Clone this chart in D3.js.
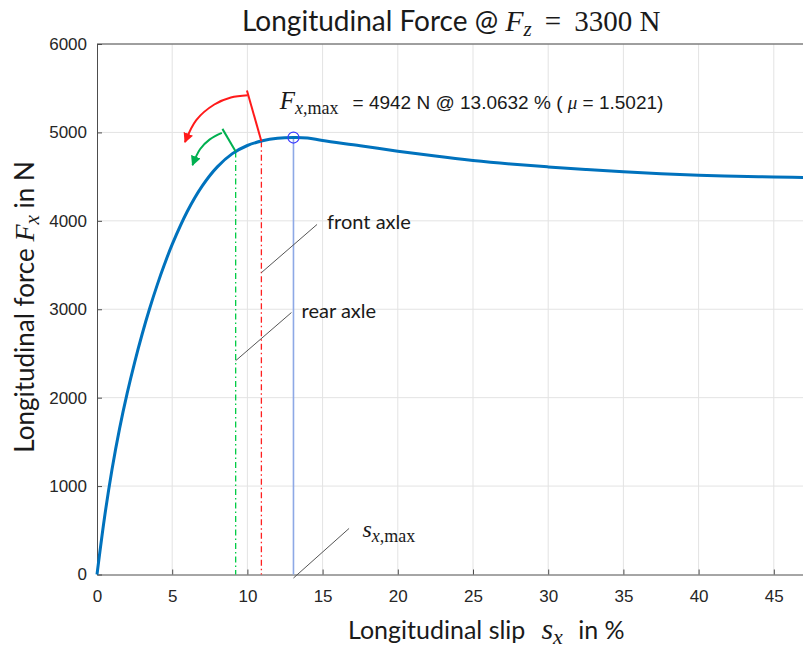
<!DOCTYPE html>
<html>
<head>
<meta charset="utf-8">
<script src="https://cdn.jsdelivr.net/npm/d3@7"></script>
<style>
  body { margin: 0; background: #fff; }
  svg { display: block; }
  .lbl { font-family: Lato, "Open Sans", sans-serif; fill: #1a1a1a; }
  .math { font-family: "Liberation Serif", "DejaVu Serif", serif; }
</style>
</head>
<body>
<div id="chart"></div>
<script>
// tire curve: slip in %, force in N
const slip = [0, 0.5, 1, 1.5, 2, 2.5, 3, 3.5, 4, 4.5, 5, 6, 7, 8, 9, 10, 11, 12, 13.0632, 14, 15, 17.5, 20, 22.5, 25, 27.5, 30, 32.5, 35, 37.5, 40, 42.5, 45, 47.5, 50];
const force = [0, 645, 1190, 1650, 2045, 2397, 2717, 3008, 3273, 3514, 3733, 4105, 4395, 4610, 4760, 4852, 4905, 4933, 4942, 4937, 4908, 4850, 4788, 4732, 4683, 4643, 4610, 4580, 4554, 4533, 4516, 4505, 4496, 4489, 4484];

const xTicks = [0, 5, 10, 15, 20, 25, 30, 35, 40, 45];
const xGrid = [5, 10, 15, 20, 25, 30, 35, 40, 45, 50];
const yTicks = [0, 1000, 2000, 3000, 4000, 5000, 6000];

// operating points
const peak = { s: 13.0632, f: 4942 };
const front = { s: 10.93, f: 4899 };
const rear = { s: 9.22, f: 4785 };

// rotation arrows (data units)
const redStem = [[10.93, 4899], [9.97, 5475]];
const redArc = [[10.02, 5420], [8.9, 5395], [7.8, 5316], [6.6, 5140], [5.85, 4890]];
const greenStem = [[9.22, 4785], [8.34, 5040]];
const greenArc = [[8.3, 4995], [7.5, 4921], [6.85, 4810], [6.35, 4630]];

// label leader lines
const leaders = [
  { name: "front", from: [10.93, 3414], to: [14.63, 3959] },
  { name: "rear", from: [9.22, 2418], to: [12.93, 2963] },
  { name: "smax", from: [13.0632, -40], to: [16.76, 521] }
];

const W = 803, H = 651;
const margin = { top: 44, left: 97 };

const svg = d3.select("#chart").append("svg")
  .attr("width", W).attr("height", H)
  .style("overflow", "hidden");

const x = d3.scaleLinear().domain([0, 50]).range([margin.left, margin.left + 752]);
const y = d3.scaleLinear().domain([0, 6000]).range([574.5, margin.top]);

// grid
svg.append("g").selectAll("line")
  .data(xGrid)
  .join("line")
  .attr("x1", d => x(d)).attr("x2", d => x(d))
  .attr("y1", y(0)).attr("y2", y(6000))
  .attr("stroke", "#e3e3e3").attr("stroke-width", 1);

svg.append("g").selectAll("line")
  .data(yTicks.slice(1))
  .join("line")
  .attr("x1", x(0)).attr("x2", x(50))
  .attr("y1", d => y(d)).attr("y2", d => y(d))
  .attr("stroke", "#e3e3e3").attr("stroke-width", 1);

// axes, ticks pointing inwards like matlab
const xAxis = svg.append("g")
  .attr("transform", `translate(0,${y(0)})`)
  .call(d3.axisBottom(x).tickValues(xTicks).tickFormat(d3.format("d"))
    .tickSizeInner(-5).tickSizeOuter(0).tickPadding(15));
const yAxis = svg.append("g")
  .attr("transform", `translate(${x(0)},0)`)
  .call(d3.axisLeft(y).tickValues(yTicks).tickFormat(d3.format("d"))
    .tickSizeInner(-5).tickSizeOuter(0).tickPadding(10));
[xAxis, yAxis].forEach(a => {
  a.select(".domain").attr("stroke", "#4d4d4d");
  a.selectAll(".tick line").attr("stroke", "#4d4d4d");
  a.selectAll(".tick text")
    .style("font-family", "'Liberation Sans', Arial, sans-serif")
    .style("font-size", "17px")
    .attr("fill", "#262626");
});
svg.append("line")
  .attr("x1", x(0)).attr("x2", x(50))
  .attr("y1", y(6000)).attr("y2", y(6000))
  .attr("stroke", "#4d4d4d");

// vertical markers
svg.append("line")
  .attr("x1", x(rear.s)).attr("x2", x(rear.s))
  .attr("y1", y(rear.f)).attr("y2", y(0))
  .attr("stroke", "#00cc44").attr("stroke-width", 1.3)
  .attr("stroke-dasharray", "6,3,1.5,3");
svg.append("line")
  .attr("x1", x(front.s)).attr("x2", x(front.s))
  .attr("y1", y(front.f)).attr("y2", y(0))
  .attr("stroke", "#ff2020").attr("stroke-width", 1.3)
  .attr("stroke-dasharray", "6,3,1.5,3");
svg.append("line")
  .attr("x1", x(peak.s)).attr("x2", x(peak.s))
  .attr("y1", y(peak.f)).attr("y2", y(0))
  .attr("stroke", "#8ea9e6").attr("stroke-width", 1.6);

// curve
const line = d3.line().x(d => x(d[0])).y(d => y(d[1])).curve(d3.curveCatmullRom);
svg.append("path")
  .datum(slip.map((s, i) => [s, force[i]]))
  .attr("d", line)
  .attr("fill", "none")
  .attr("stroke", "#0072bd")
  .attr("stroke-width", 3);

svg.append("circle")
  .attr("cx", x(peak.s)).attr("cy", y(peak.f)).attr("r", 5.5)
  .attr("fill", "none").attr("stroke", "#3b3bff").attr("stroke-width", 1.2);

// arrow heads
const defs = svg.append("defs");
[["red", "#ff1a1a"], ["green", "#00b050"]].forEach(([id, c]) => {
  defs.append("marker")
    .attr("id", "arr-" + id)
    .attr("markerUnits", "userSpaceOnUse")
    .attr("viewBox", "0 0 10 10")
    .attr("refX", 9).attr("refY", 5)
    .attr("markerWidth", 10).attr("markerHeight", 10)
    .attr("orient", "auto")
    .append("path").attr("d", "M0,0 L10,5 L0,10 Z").attr("fill", c);
});

const pline = d3.line().x(d => x(d[0])).y(d => y(d[1]));
const arcLine = d3.line().x(d => x(d[0])).y(d => y(d[1])).curve(d3.curveCatmullRom);

svg.append("path").attr("d", pline(redStem)).attr("stroke", "#ff1a1a").attr("stroke-width", 2).attr("fill", "none");
svg.append("path").attr("d", arcLine(redArc)).attr("stroke", "#ff1a1a").attr("stroke-width", 2).attr("fill", "none")
  .attr("marker-end", "url(#arr-red)");
svg.append("path").attr("d", pline(greenStem)).attr("stroke", "#00b050").attr("stroke-width", 2).attr("fill", "none");
svg.append("path").attr("d", arcLine(greenArc)).attr("stroke", "#00b050").attr("stroke-width", 2).attr("fill", "none")
  .attr("marker-end", "url(#arr-green)");

// leader lines
svg.append("g").selectAll("path")
  .data(leaders)
  .join("path")
  .attr("d", d => pline([d.from, d.to]))
  .attr("stroke", "#555").attr("stroke-width", 1).attr("fill", "none");

// annotation texts
svg.append("text").attr("class", "lbl")
  .attr("x", x(15.3)).attr("y", y(3903))
  .style("font-size", "20px").text("front axle");
svg.append("text").attr("class", "lbl")
  .attr("x", x(13.6)).attr("y", y(2900))
  .style("font-size", "20px").text("rear axle");

const smax = svg.append("text").attr("class", "math")
  .attr("x", x(17.65)).attr("y", y(425))
  .style("font-size", "24px").attr("fill", "#1a1a1a");
smax.append("tspan").style("font-style", "italic").text("s");
smax.append("tspan").attr("dy", 5).style("font-size", "18px").style("font-style", "italic").text("x");
smax.append("tspan").style("font-size", "18px").text(",max");

const fmax = svg.append("text")
  .attr("x", x(12.15)).attr("y", y(5270))
  .attr("fill", "#1a1a1a");
fmax.append("tspan").attr("class", "math").style("font-size", "25px").style("font-style", "italic").text("F");
fmax.append("tspan").attr("class", "math").attr("dy", 5).style("font-size", "18px").style("font-style", "italic").text("x");
fmax.append("tspan").attr("class", "math").style("font-size", "18px").text(",max");
fmax.append("tspan").attr("dy", -5).attr("dx", 14)
  .style("font-family", "'Liberation Sans', Arial, sans-serif").style("font-size", "19px")
  .text("= 4942 N @ 13.0632 % ( ");
fmax.append("tspan").attr("class", "math").style("font-style", "italic").style("font-size", "19px").text("μ");
fmax.append("tspan")
  .style("font-family", "'Liberation Sans', Arial, sans-serif").style("font-size", "19px")
  .text(" = 1.5021)");

// title
const title = svg.append("text").attr("class", "lbl")
  .attr("x", 242).attr("y", 31)
  .style("font-size", "28px");
title.append("tspan").text("Longitudinal Force @ ");
title.append("tspan").attr("class", "math").style("font-style", "italic").style("font-size", "30px").text("F");
title.append("tspan").attr("class", "math").attr("dy", 5).style("font-size", "21px").style("font-style", "italic").text("z");
title.append("tspan").attr("class", "math").attr("dy", -5).style("font-size", "29px").text(" \u2009= \u20093300 N");

// axis labels
const xl = svg.append("text").attr("class", "lbl")
  .attr("x", 348).attr("y", 639)
  .style("font-size", "25px");
xl.append("tspan").text("Longitudinal slip");
xl.append("tspan").attr("class", "math").attr("dx", 16).style("font-size", "30px").style("font-style", "italic").text("s");
xl.append("tspan").attr("class", "math").attr("dy", 5).style("font-size", "22px").style("font-style", "italic").text("x");
xl.append("tspan").attr("dy", -5).attr("dx", 9).text(" in %");

const yl = svg.append("text").attr("class", "lbl")
  .attr("transform", "translate(34,307) rotate(-90)")
  .attr("text-anchor", "middle")
  .style("font-size", "26px");
yl.append("tspan").text("Longitudinal force ");
yl.append("tspan").attr("class", "math").style("font-size", "28px").style("font-style", "italic").text("F");
yl.append("tspan").attr("class", "math").attr("dy", 5).style("font-size", "21px").style("font-style", "italic").text("x");
yl.append("tspan").attr("dy", -5).text(" in N");
</script>
</body>
</html>
